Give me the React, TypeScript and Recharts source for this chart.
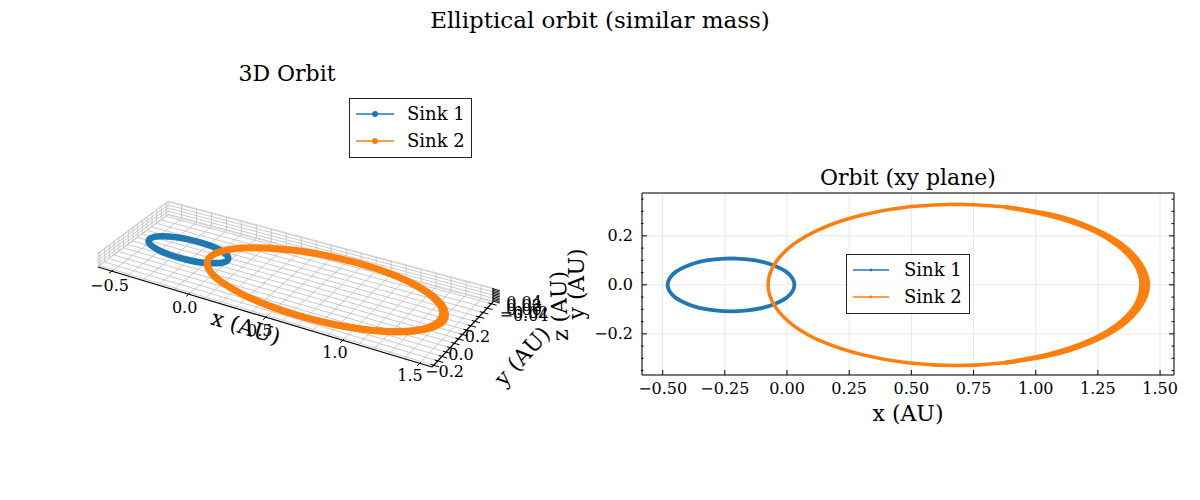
import React from 'react';
import { ScatterChart, Scatter, XAxis, YAxis, CartesianGrid, Legend } from 'recharts';

const FONT = '"DejaVu Serif", "Liberation Serif", serif';
const C1 = '#1f77b4';
const C2 = '#ff7f0e';

// ---------------- data (AU) ----------------
const sink1X = [-0.225, -0.291, -0.353, -0.405, -0.446, -0.471, -0.48, -0.471, -0.446, -0.405, -0.353, -0.291, -0.225, -0.159, -0.098, -0.045, -0.004, 0.021, 0.03, 0.021, -0.004, -0.045, -0.098, -0.159, -0.225];
const sink1Y = [0.108, 0.104, 0.094, 0.076, 0.054, 0.028, 0, -0.028, -0.054, -0.076, -0.094, -0.104, -0.108, -0.104, -0.094, -0.076, -0.054, -0.028, 0, 0.028, 0.054, 0.076, 0.094, 0.104, 0.108];

const sink2X = [0.68, 0.484, 0.302, 0.145, 0.025, -0.05, -0.076, -0.05, 0.025, 0.145, 0.302, 0.484, 0.68, 0.876, 1.058, 1.215, 1.335, 1.41, 1.436, 1.41, 1.335, 1.215, 1.058, 0.876, 0.68];
const sink2Y = [0.329, 0.318, 0.285, 0.233, 0.165, 0.085, 0, -0.085, -0.165, -0.233, -0.285, -0.318, -0.329, -0.318, -0.285, -0.233, -0.165, -0.085, 0, 0.085, 0.165, 0.233, 0.285, 0.318, 0.329];

// later (precessed) passes of Sink 2 near apoapsis
const sink2OuterX = [0.876, 1.063, 1.222, 1.345, 1.423, 1.452, 1.423, 1.345, 1.222, 1.063, 0.876];
const sink2OuterY = [-0.318, -0.287, -0.235, -0.167, -0.086, 0, 0.086, 0.167, 0.235, 0.287, 0.318];
const sink2InnerX = [0.876, 1.053, 1.208, 1.326, 1.4, 1.424, 1.4, 1.326, 1.208, 1.053, 0.876];
const sink2InnerY = [-0.318, -0.283, -0.231, -0.163, -0.084, 0, 0.084, 0.163, 0.231, 0.283, 0.318];

const orbitZ = 0;
const seriesNames = ['Sink 1', 'Sink 2'];

// ---------------- 2D ticks ----------------
const xMajor = [-0.5, -0.25, 0, 0.25, 0.5, 0.75, 1, 1.25, 1.5];
const xMinor = [-0.55, -0.45, -0.4, -0.35, -0.3, -0.2, -0.15, -0.1, -0.05, 0.05, 0.1, 0.15, 0.2, 0.3, 0.35, 0.4, 0.45, 0.55, 0.6, 0.65, 0.7, 0.8, 0.85, 0.9, 0.95, 1.05, 1.1, 1.15, 1.2, 1.3, 1.35, 1.4, 1.45, 1.55];
const yMajor = [-0.2, 0, 0.2];
const yMinor = [-0.35, -0.3, -0.25, -0.15, -0.1, -0.05, 0.05, 0.1, 0.15, 0.25, 0.3, 0.35];
const xAll = [...xMajor, ...xMinor].sort((a, b) => a - b);
const yAll = [...yMajor, ...yMinor].sort((a, b) => a - b);

// ---------------- 3D ticks ----------------
const x3Ticks = [-0.5, 0, 0.5, 1, 1.5];
const y3Ticks = [-0.2, 0, 0.2];
const z3Ticks = [-0.04, -0.02, 0, 0.02, 0.04];
const x3Grid = [-0.5, -0.4, -0.3, -0.2, -0.1, 0, 0.1, 0.2, 0.3, 0.4, 0.5, 0.6, 0.7, 0.8, 0.9, 1.0, 1.1, 1.2, 1.3, 1.4, 1.5];
const y3Grid = [-0.35, -0.3, -0.25, -0.2, -0.15, -0.1, -0.05, 0, 0.05, 0.1, 0.15, 0.2, 0.25, 0.3, 0.35];
const z3Grid = [-0.04, -0.02, 0, 0.02, 0.04];
const z3Marks = [-0.04, -0.03, -0.02, -0.01, 0, 0.01, 0.02, 0.03, 0.04];

// ---------------- layout ----------------
const X2_DOMAIN: [number, number] = [-0.583, 1.556];
const Y2_DOMAIN: [number, number] = [-0.368, 0.375];
const X3 = [-0.59, 1.58];
const Y3 = [-0.37, 0.37];
const Z3 = [-0.045, 0.045];
const PA = [98, 267];
const PB = [432, 367];
const PC = [493, 302];
const PD = [168, 215];
const LIFT = 14;

function proj(x: number, y: number, z: number) {
  const s = (x - X3[0]) / (X3[1] - X3[0]);
  const t = (y - Y3[0]) / (Y3[1] - Y3[0]);
  const w = (z - Z3[0]) / (Z3[1] - Z3[0]);
  const px = PA[0] * (1 - s) * (1 - t) + PB[0] * s * (1 - t) + PC[0] * s * t + PD[0] * (1 - s) * t;
  const py = PA[1] * (1 - s) * (1 - t) + PB[1] * s * (1 - t) + PC[1] * s * t + PD[1] * (1 - s) * t - w * LIFT;
  return { px, py };
}

const fmt = (v: number, d: number) => v.toFixed(d).replace('-', '\u2212');
const isIn = (v: number, arr: number[]) => arr.some((m) => Math.abs(m - v) < 1e-9);

const NoDot = () => <g />;

// ---------------- 3D pieces ----------------
type P3 = [number, number, number];
type Seg = { a: P3; b: P3; color: string; w: number };
const GRID_C = '#bdbdbd';
const EDGE_C = '#cfcfcf';
const segs: Seg[] = [];
const z0 = Z3[0], z1 = Z3[1];
x3Grid.forEach((gx) => {
  segs.push({ a: [gx, Y3[0], z0], b: [gx, Y3[1], z0], color: GRID_C, w: 0.8 });
  segs.push({ a: [gx, Y3[1], z0], b: [gx, Y3[1], z1], color: GRID_C, w: 0.8 });
});
y3Grid.forEach((gy) => {
  segs.push({ a: [X3[0], gy, z0], b: [X3[1], gy, z0], color: GRID_C, w: 0.8 });
  segs.push({ a: [X3[0], gy, z0], b: [X3[0], gy, z1], color: GRID_C, w: 0.8 });
});
z3Grid.forEach((gz) => {
  segs.push({ a: [X3[0], Y3[1], gz], b: [X3[1], Y3[1], gz], color: GRID_C, w: 0.8 });
  segs.push({ a: [X3[0], Y3[0], gz], b: [X3[0], Y3[1], gz], color: GRID_C, w: 0.8 });
});
[z0, z1].forEach((zz) => {
  segs.push({ a: [X3[0], Y3[0], zz], b: [X3[0], Y3[1], zz], color: EDGE_C, w: 0.8 });
  segs.push({ a: [X3[0], Y3[1], zz], b: [X3[1], Y3[1], zz], color: EDGE_C, w: 0.8 });
});
segs.push({ a: [X3[0], Y3[0], z0], b: [X3[0], Y3[0], z1], color: EDGE_C, w: 0.8 });
segs.push({ a: [X3[0], Y3[1], z0], b: [X3[0], Y3[1], z1], color: EDGE_C, w: 0.8 });
const axisSegs: Seg[] = [
  { a: [X3[0], Y3[0], z0], b: [X3[1], Y3[0], z0], color: '#000', w: 1.2 },
  { a: [X3[1], Y3[0], z0], b: [X3[1], Y3[1], z0], color: '#000', w: 1.2 },
  { a: [X3[1], Y3[1], z0], b: [X3[1], Y3[1], z1], color: '#000', w: 1.2 },
];
x3Ticks.forEach((v) => axisSegs.push({ a: [v, Y3[0] + 0.012, z0], b: [v, Y3[0] - 0.03, z0], color: '#000', w: 1 }));
y3Grid.forEach((v) => axisSegs.push({ a: [X3[1] - 0.02, v, z0], b: [X3[1] + 0.035, v, z0], color: '#000', w: 1 }));
z3Marks.forEach((v) => axisSegs.push({ a: [X3[1], Y3[1], v], b: [X3[1] + 0.045, Y3[1], v], color: '#000', w: 1 }));

const toProj = (xs: number[], ys: number[]) => xs.map((x, i) => proj(x, ys[i], orbitZ));
const p3s1 = toProj(sink1X, sink1Y);
const p3s2 = toProj(sink2X, sink2Y);
const p3s2o = toProj(sink2OuterX, sink2OuterY);
const p3s2i = toProj(sink2InnerX, sink2InnerY);

const x3Labels = x3Ticks.map((v) => {
  const s = (v - X3[0]) / (X3[1] - X3[0]);
  const b = proj(v, Y3[0], z0);
  return { px: b.px - 2 - 8 * s, py: b.py + 14 - 2 * s, label: fmt(v, 1) };
});
const y3Labels = y3Ticks.map((v) => {
  const b = proj(X3[1], v, z0);
  return { px: b.px - 1.5, py: b.py + 19.5, label: fmt(v, 1) };
});
const z3Labels = z3Ticks.map((v) => {
  const b = proj(X3[1], Y3[1], v);
  return { px: b.px + 31, py: b.py + 14, label: fmt(v, 2) };
});

const TextShape = (p: any) => (
  <text x={p.cx} y={p.cy} dy="0.35em" textAnchor="middle" fontSize={16} fontFamily={FONT} fill="#000">
    {p.payload.label}
  </text>
);

function LegendBox({ w, h, lineX, markerX, markerR, textX }: { w: number; h: number; lineX: [number, number]; markerX: number; markerR: number; textX: number }) {
  const rows = [
    { y: 16, color: C1, name: seriesNames[0] },
    { y: 43, color: C2, name: seriesNames[1] },
  ];
  return (
    <svg width={w} height={h} style={{ display: 'block' }}>
      <rect x={0.5} y={0.5} width={w - 1} height={h - 1} fill="rgba(255,255,255,0.8)" stroke="#222" strokeWidth={1} />
      {rows.map((r, i) => (
        <g key={i}>
          <line x1={lineX[0]} x2={lineX[1]} y1={r.y} y2={r.y} stroke={r.color} strokeWidth={1.5} />
          <circle cx={markerX} cy={r.y} r={markerR} fill={r.color} />
          <text x={textX} y={r.y} dy="0.35em" fontSize={18} fontFamily={FONT} fill="#000">
            {r.name}
          </text>
        </g>
      ))}
    </svg>
  );
}

function Chart3D() {
  return (
    <ScatterChart width={600} height={500} margin={{ top: 0, right: 0, bottom: 0, left: 0 }}>
      <XAxis type="number" dataKey="px" domain={[0, 600]} hide allowDataOverflow />
      <YAxis type="number" dataKey="py" domain={[0, 500]} reversed hide allowDataOverflow />
      {segs.map((sg, i) => (
        <Scatter key={'g' + i} data={[proj(...sg.a), proj(...sg.b)]} line={{ stroke: sg.color, strokeWidth: sg.w }} shape={NoDot} isAnimationActive={false} legendType="none" />
      ))}
      {axisSegs.map((sg, i) => (
        <Scatter key={'a' + i} data={[proj(...sg.a), proj(...sg.b)]} line={{ stroke: sg.color, strokeWidth: sg.w }} shape={NoDot} isAnimationActive={false} legendType="none" />
      ))}
      <Scatter name={seriesNames[0]} data={p3s1} line={{ stroke: C1, strokeWidth: 6.5 }} lineJointType="natural" shape={NoDot} isAnimationActive={false} />
      <Scatter name={seriesNames[1]} data={p3s2} line={{ stroke: C2, strokeWidth: 7 }} lineJointType="natural" shape={NoDot} isAnimationActive={false} />
      <Scatter data={p3s2o} line={{ stroke: C2, strokeWidth: 6 }} lineJointType="natural" shape={NoDot} isAnimationActive={false} legendType="none" />
      <Scatter data={p3s2i} line={{ stroke: C2, strokeWidth: 6 }} lineJointType="natural" shape={NoDot} isAnimationActive={false} legendType="none" />
      <Scatter data={x3Labels} shape={TextShape} isAnimationActive={false} legendType="none" />
      <Scatter data={y3Labels} shape={TextShape} isAnimationActive={false} legendType="none" />
      <Scatter data={z3Labels} shape={TextShape} isAnimationActive={false} legendType="none" />
      <Legend
        layout="horizontal"
        verticalAlign="middle"
        align="center"
        wrapperStyle={{ left: 349, top: 98, width: 123, height: 60 }}
        content={() => <LegendBox w={123} h={60} lineX={[7, 45]} markerX={26} markerR={3} textX={58} />}
      />
    </ScatterChart>
  );
}

// ---------------- 2D ticks ----------------
const MAJ = 5;
const MIN = 2.5;
const tickProps = { fontSize: 16, fontFamily: FONT, fill: '#000' };

const BottomTick = (p: any) => {
  const v = p.payload.value;
  const major = isIn(v, xMajor);
  return (
    <g>
      <line x1={p.x} x2={p.x} y1={p.y} y2={p.y - (major ? MAJ : MIN)} stroke="#000" strokeWidth={1} />
      {major && (
        <text x={p.x} y={p.y + 13} dy="0.35em" textAnchor="middle" {...tickProps}>
          {fmt(v, 2)}
        </text>
      )}
    </g>
  );
};
const TopTick = (p: any) => {
  const major = isIn(p.payload.value, xMajor);
  return <line x1={p.x} x2={p.x} y1={p.y} y2={p.y + (major ? MAJ : MIN)} stroke="#000" strokeWidth={1} />;
};
const LeftTick = (p: any) => {
  const v = p.payload.value;
  const major = isIn(v, yMajor);
  return (
    <g>
      <line x1={p.x} x2={p.x + (major ? MAJ : MIN)} y1={p.y} y2={p.y} stroke="#000" strokeWidth={1} />
      {major && (
        <text x={p.x - 9} y={p.y} dy="0.35em" textAnchor="end" {...tickProps}>
          {fmt(v, 1)}
        </text>
      )}
    </g>
  );
};
const RightTick = (p: any) => {
  const major = isIn(p.payload.value, yMajor);
  return <line x1={p.x} x2={p.x - (major ? MAJ : MIN)} y1={p.y} y2={p.y} stroke="#000" strokeWidth={1} />;
};

const pts2 = (xs: number[], ys: number[]) => xs.map((x, i) => ({ x, y: ys[i] }));

function Chart2D() {
  const axisCommon = { type: 'number' as const, allowDataOverflow: true, tickSize: 0, tickMargin: 0, interval: 0 as const, tickLine: false };
  return (
    <ScatterChart width={640} height={300} margin={{ top: 42, right: 25, bottom: 73, left: 80 }}>
      <CartesianGrid stroke="#e2e2e2" strokeWidth={0.8} fill="none" />
      <XAxis {...axisCommon} xAxisId={0} dataKey="x" domain={X2_DOMAIN} ticks={xMajor} height={1} axisLine={{ stroke: '#000' }} tick={BottomTick} />
      <XAxis {...axisCommon} xAxisId="bm" domain={X2_DOMAIN} ticks={xMinor} height={1} axisLine={false} tick={BottomTick} />
      <XAxis {...axisCommon} xAxisId="top" orientation="top" domain={X2_DOMAIN} ticks={xAll} height={1} axisLine={{ stroke: '#000' }} tick={TopTick} />
      <YAxis {...axisCommon} yAxisId={0} dataKey="y" domain={Y2_DOMAIN} ticks={yMajor} width={1} axisLine={{ stroke: '#000' }} tick={LeftTick} />
      <YAxis {...axisCommon} yAxisId="lm" domain={Y2_DOMAIN} ticks={yMinor} width={1} axisLine={false} tick={LeftTick} />
      <YAxis {...axisCommon} yAxisId="right" orientation="right" domain={Y2_DOMAIN} ticks={yAll} width={1} axisLine={{ stroke: '#000' }} tick={RightTick} />
      <Scatter name={seriesNames[0]} data={pts2(sink1X, sink1Y)} line={{ stroke: C1, strokeWidth: 3.8 }} lineJointType="natural" shape={NoDot} isAnimationActive={false} />
      <Scatter data={pts2(sink2OuterX, sink2OuterY)} line={{ stroke: C2, strokeWidth: 4 }} lineJointType="natural" shape={NoDot} isAnimationActive={false} legendType="none" />
      <Scatter data={pts2(sink2InnerX, sink2InnerY)} line={{ stroke: C2, strokeWidth: 4 }} lineJointType="natural" shape={NoDot} isAnimationActive={false} legendType="none" />
      <Scatter name={seriesNames[1]} data={pts2(sink2X, sink2Y)} line={{ stroke: C2, strokeWidth: 3.5 }} lineJointType="natural" shape={NoDot} isAnimationActive={false} />
      <Legend
        layout="horizontal"
        verticalAlign="middle"
        align="center"
        wrapperStyle={{ left: 286, top: 104, width: 124, height: 60 }}
        content={() => <LegendBox w={124} h={60} lineX={[7, 43]} markerX={25} markerR={1.4} textX={58} />}
      />
    </ScatterChart>
  );
}

export default function App() {
  return (
    <div style={{ position: 'absolute', left: 0, top: 0, width: 1200, height: 500, background: '#fff', overflow: 'hidden' }}>
      <div style={{ position: 'absolute', left: 0, top: 0 }}>
        <Chart3D />
      </div>
      <div style={{ position: 'absolute', left: 560, top: 150 }}>
        <Chart2D />
      </div>
      <svg width={1200} height={500} style={{ position: 'absolute', left: 0, top: 0, pointerEvents: 'none' }}>
        <g fontFamily={FONT} fill="#000">
          <text x={600} y={28} textAnchor="middle" fontSize={23}>Elliptical orbit (similar mass)</text>
          <text x={287} y={81} textAnchor="middle" fontSize={22}>3D Orbit</text>
          <text x={908} y={185} textAnchor="middle" fontSize={22}>Orbit (xy plane)</text>
          <text x={908} y={413} dy="0.35em" textAnchor="middle" fontSize={22}>x (AU)</text>
          <text x={576} y={284} dy="0.35em" textAnchor="middle" fontSize={22} transform="rotate(-90 576 284)">y (AU)</text>
          <text x={246} y={327} dy="0.35em" textAnchor="middle" fontSize={22} transform="rotate(17 246 327)">x (AU)</text>
          <text x={522} y={356} dy="0.35em" textAnchor="middle" fontSize={22} transform="rotate(-48 522 356)">y (AU)</text>
          <text x={559} y={306} dy="0.35em" textAnchor="middle" fontSize={22} transform="rotate(-92 559 306)">z (AU)</text>
        </g>
      </svg>
    </div>
  );
}
